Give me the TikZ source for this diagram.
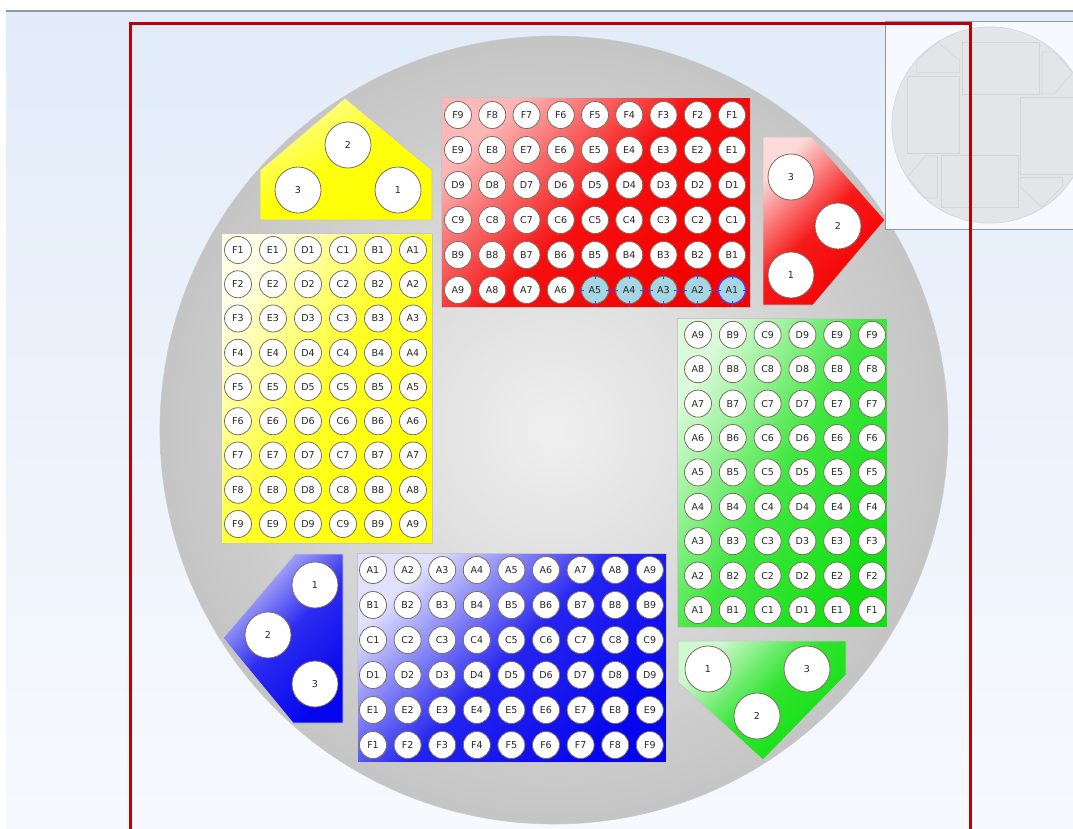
\documentclass[tikz,border=0pt]{standalone}
\usepackage{fontspec}
\newfontfamily\wellfont{DejaVu Sans}
\usetikzlibrary{positioning}

\definecolor{framered}{HTML}{C00000}
\definecolor{paneltop}{HTML}{E2ECF9}
\definecolor{panelbot}{HTML}{F7F9FE}
\definecolor{rimgray}{HTML}{8E99A4}
\definecolor{wellrim}{HTML}{7A6E60}
\definecolor{picked}{HTML}{A6D6E4}
\definecolor{ppred}{HTML}{F50000}
\definecolor{ppyellow}{HTML}{FFFF00}
\definecolor{ppgreen}{HTML}{12E012}
\definecolor{ppblue}{HTML}{0606EE}
\definecolor{minifill}{HTML}{E3E5E9}
\definecolor{miniline}{HTML}{D2D5DA}

% outlines, reused for the overview in the corner
\def\redplate{(441,97) rectangle (750,307)}
\def\yellowplate{(221,233) rectangle (432,543)}
\def\greenplate{(677,318) rectangle (887,627)}
\def\blueplate{(357,553) rectangle (666,762)}
\def\yellowtri{(345,98) -- (432,170) -- (432,220) -- (260,220) -- (260,170) -- cycle}
\def\redtri{(763,137) -- (812,137) -- (885,220) -- (813,305) -- (763,305) -- cycle}
\def\bluetri{(295,554) -- (343,554) -- (343,723) -- (293,723) -- (223,638) -- cycle}
\def\greentri{(678,641) -- (846,641) -- (846,675) -- (763,760) -- (678,682) -- cycle}

\begin{document}
\begin{tikzpicture}[x=1pt, y=-1pt,
    well/.style={circle, draw=wellrim, line width=0.8pt, fill=white, minimum size=27pt,
      inner sep=0pt, font=\wellfont\fontsize{9.5}{10}\selectfont, text=black!85},
    bigwell/.style={well, minimum size=46pt},
    plate/.style={draw=gray!45, line width=0.8pt},
    mini/.style={fill=minifill, draw=miniline, line width=0.6pt},
    xhair/.style={draw=blue!75, line width=0.6pt}
  ]
  \useasboundingbox (0,0) rectangle (1073,828);
  \fill[white] (0,0) rectangle (1073,828);
  \shade[top color=paneltop, bottom color=panelbot] (6,12) rectangle (1073,828);
  \draw[rimgray, line width=2pt] (6,11) -- (1073,11);

  % wafer
  \shade[draw=gray!40, line width=0.6pt, inner color=gray!12, outer color=gray!46] (554,430) circle (394);

  % plates
  \shade[plate, left color=ppred!28, right color=ppred, middle color=ppred!94, shading angle=45] \redplate;
  \shade[plate, left color=ppyellow!10, right color=ppyellow, middle color=ppyellow!85, shading angle=60] \yellowplate;
  \shade[plate, left color=ppgreen!15, right color=ppgreen, middle color=ppgreen!80, shading angle=60] \greenplate;
  \shade[plate, left color=ppblue!12, right color=ppblue, middle color=ppblue!88, shading angle=45] \blueplate;

  \shade[plate, left color=ppred!15, right color=ppred, middle color=ppred!90, shading angle=45] \redtri;
  \shade[plate, left color=ppyellow!40, right color=ppyellow, middle color=ppyellow!95, shading angle=30] \yellowtri;
  \shade[plate, left color=ppblue!20, right color=ppblue, middle color=ppblue!85, shading angle=45] \bluetri;
  \shade[plate, left color=ppgreen!20, right color=ppgreen, middle color=ppgreen!88, shading angle=45] \greentri;

  % red wells
  \foreach \r [count=\i from 0] in {A,B,C,D,E,F}
    \foreach \c in {1,...,9}
      \node[well] (red-\r\c) at ({732-(\c-1)*34.25},{290-\i*35}) {\r\c};
  \foreach \c in {1,...,5} {
    \node[well, fill=picked] (pick-\c) at (red-A\c) {A\c};
    \draw[xhair] (pick-\c.north) ++(0,-3) -- ++(0,6)
                 (pick-\c.south) ++(0,-3) -- ++(0,6)
                 (pick-\c.west) ++(-3,0) -- ++(6,0)
                 (pick-\c.east) ++(-3,0) -- ++(6,0);
  }
  \draw[xhair, line width=1pt] (pick-1) circle (13.5);

  % yellow wells
  \foreach \r [count=\i from 0] in {A,B,C,D,E,F}
    \foreach \c in {1,...,9}
      \node[well] (yel-\r\c) at ({413-\i*35},{250+(\c-1)*34.25}) {\r\c};

  % green wells
  \foreach \r [count=\i from 0] in {A,B,C,D,E,F}
    \foreach \c in {1,...,9}
      \node[well] (grn-\r\c) at ({698+\i*34.8},{610-(\c-1)*34.4}) {\r\c};

  % blue wells
  \foreach \r [count=\i from 0] in {A,B,C,D,E,F}
    \foreach \c in {1,...,9}
      \node[well] (blu-\r\c) at ({373+(\c-1)*34.6},{570+\i*35}) {\r\c};

  % tip racks
  \node[bigwell] (ytri-2) at (348,145) {2};
  \node[bigwell] (ytri-3) at (298,190) {3};
  \node[bigwell] (ytri-1) at (398,190) {1};
  \node[bigwell] (rtri-3) at (791,177) {3};
  \node[bigwell] (rtri-2) at (838,226) {2};
  \node[bigwell] (rtri-1) at (791,275) {1};
  \node[bigwell] (btri-1) at (315,585) {1};
  \node[bigwell] (btri-2) at (268,635) {2};
  \node[bigwell] (btri-3) at (315,684) {3};
  \node[bigwell] (gtri-1) at (708,669) {1};
  \node[bigwell] (gtri-3) at (807,669) {3};
  \node[bigwell] (gtri-2) at (757,716) {2};

  % overview
  \begin{scope}
    \clip (885,21) rectangle (1073,229);
    \fill[panelbot] (885,21) rectangle (1073,229);
    \begin{scope}[shift={(990,125)}, scale=0.249, shift={(-554,-430)}]
      \fill[mini] (554,430) circle (394);
      \draw[mini] \redplate;
      \draw[mini] \yellowplate;
      \draw[mini] \greenplate;
      \draw[mini] \blueplate;
      \draw[mini] \redtri;
      \draw[mini] \yellowtri;
      \draw[mini] \bluetri;
      \draw[mini] \greentri;
    \end{scope}
  \end{scope}
  \draw[rimgray, line width=1pt] (885,21) rectangle (1080,229);

  \draw[framered, line width=3pt] (130,832) |- (970,23) -- (970,832);
\end{tikzpicture}
\end{document}
